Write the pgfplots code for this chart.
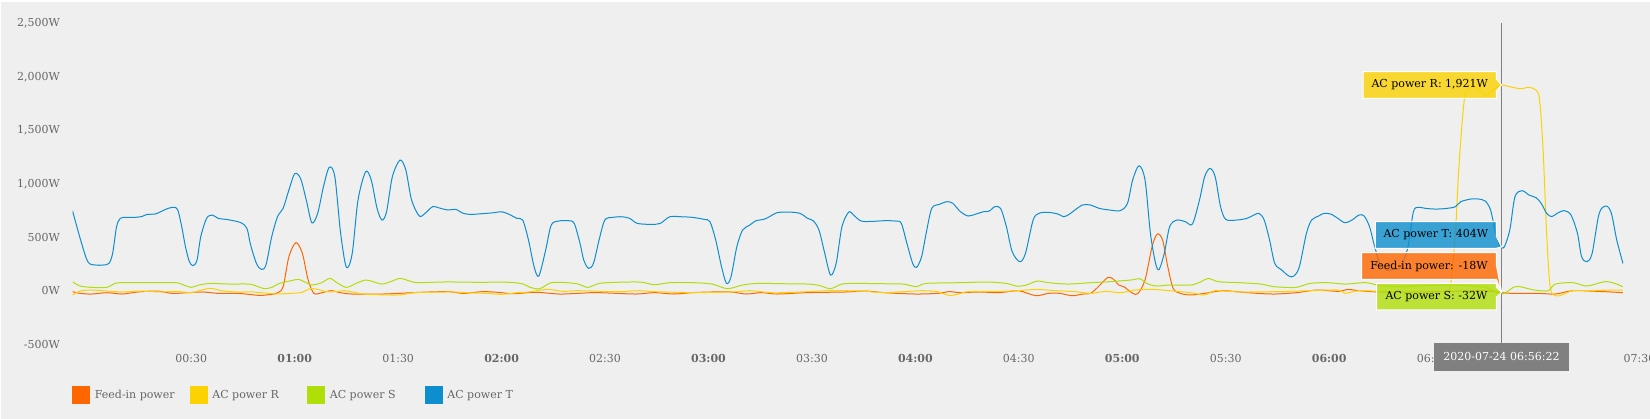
\documentclass[border=0pt]{standalone}
\usepackage{fontspec}
\setmainfont{DejaVu Serif}
\usepackage{pgfplots}
\pgfplotsset{compat=1.18}
\definecolor{feedc}{HTML}{FF6600}
\definecolor{rc}{HTML}{FCD202}
\definecolor{sc}{HTML}{B0DE09}
\definecolor{tc}{HTML}{0D8ECF}
\definecolor{bgc}{HTML}{EFEFEF}
\definecolor{labc}{HTML}{666666}
\definecolor{curc}{HTML}{808080}
\newcommand{\sz}{\fontsize{5.5bp}{6.6bp}\selectfont}
\begin{document}
\sz
\begin{tikzpicture}
\path[use as bounding box] (0,0) rectangle (825bp,209.5bp);
\fill[white] (0,0) rectangle (825bp,209.5bp);
\fill[bgc] (0.5bp,0) rectangle (825bp,208.6bp);
\begin{axis}[
  at={(36.25bp,37.4bp)}, anchor=south west,
  scale only axis, width=783.5bp, height=160.5bp,
  xmin=-0.074, xmax=7.5, ymin=-500, ymax=2500,
  axis line style={draw=none},
  tick style={draw=none},
  major tick length=0pt,
  xtick={0.5,1,1.5,2,2.5,3,3.5,4,4.5,5,5.5,6,6.5,7,7.5},
  xticklabels={00:30,\textbf{01:00},01:30,\textbf{02:00},02:30,\textbf{03:00},03:30,\textbf{04:00},04:30,\textbf{05:00},05:30,\textbf{06:00},06:30,\textbf{07:00},07:30},
  ytick={-500,0,500,1000,1500,2000,2500},
  yticklabels={-500W,0W,500W,{1,000W},{1,500W},{2,000W},{2,500W}},
  ticklabel style={font=\sz, text=labc},
  xticklabel style={anchor=center, yshift=-7bp, inner sep=0pt},
  yticklabel style={anchor=east, xshift=-6.05bp, inner sep=0pt},
  every axis plot/.append style={line width=0.5bp, smooth, tension=0.5, no markers},
  legend columns=4,
  legend cell align=left,
  legend style={at={(axis description cs:0,0)}, anchor=west, xshift=-0.25bp, yshift=-25.4bp,
    draw=none, fill=none, inner sep=0pt, font=\sz, text=labc,
    /tikz/every odd column/.style={column sep=2.4bp},
    nodes={inner sep=0pt}},
]
\addlegendimage{legend image code/.code={\fill[feedc] (0bp,-4.2bp) rectangle (8.35bp,4.2bp);}}
\addlegendentry{\makebox[47.5bp][l]{Feed-in power}}
\addlegendimage{legend image code/.code={\fill[rc] (0bp,-4.2bp) rectangle (8.35bp,4.2bp);}}
\addlegendentry{\makebox[47.5bp][l]{AC power R}}
\addlegendimage{legend image code/.code={\fill[sc] (0bp,-4.2bp) rectangle (8.35bp,4.2bp);}}
\addlegendentry{\makebox[47.5bp][l]{AC power S}}
\addlegendimage{legend image code/.code={\fill[tc] (0bp,-4.2bp) rectangle (8.35bp,4.2bp);}}
\addlegendentry{\makebox[47.5bp][l]{AC power T}}

% Feed-in power
\addplot[feedc, forget plot] coordinates {
(-0.074,-9) (-0.037,-25) (0.019,-31) (0.093,-19) (0.167,-31) (0.241,-12) (0.333,-3) (0.407,-25) (0.481,-19) (0.556,-12) (0.630,-25) (0.722,-25) (0.778,-34) (0.833,-44) (0.889,-34) (0.917,-19) (0.944,37) (0.972,318) (1.006,449) (1.037,349) (1.065,100) (1.093,-25) (1.130,-19) (1.176,0) (1.222,-19) (1.278,-31) (1.426,-31) (1.500,-25) (1.611,-15) (1.741,-9) (1.815,-25) (1.907,-9) (1.981,-15) (2.056,-28) (2.167,-15) (2.277,-31) (2.370,-25) (2.462,-18) (2.647,-31) (2.739,-18) (2.832,-31) (2.924,-18) (3.017,-12) (3.109,-12) (3.183,-31) (3.257,-18) (3.331,-31) (3.479,-18) (3.664,-12) (3.756,-3) (3.848,-18) (3.996,-31) (4.107,-25) (4.163,-9) (4.218,-18) (4.311,-12) (4.403,-18) (4.495,0) (4.542,-25) (4.588,-47) (4.643,-25) (4.699,-25) (4.758,-47) (4.810,-31) (4.847,-25) (4.884,37) (4.930,124) (4.958,106) (4.983,53) (5.008,37) (5.051,-25) (5.076,-25) (5.110,100) (5.144,411) (5.169,530) (5.195,473) (5.220,224) (5.246,22) (5.280,-25) (5.331,-40) (5.398,-25) (5.483,0) (5.568,-12) (5.653,-25) (5.737,-31) (5.839,-19) (5.941,6) (6.042,-6) (6.093,12) (6.144,0) (6.246,-12) (6.415,-12) (6.585,-6) (6.754,0) (6.834,-18) (6.890,-25) (7.008,-25) (7.093,-31) (7.178,0) (7.297,-6) (7.419,-18)
};
% AC power R
\addplot[rc, forget plot] coordinates {
(-0.074,-40) (-0.037,-3) (0.019,6) (0.093,-3) (0.167,-12) (0.241,-3) (0.352,-12) (0.426,-6) (0.500,-19) (0.537,0) (0.593,22) (0.648,0) (0.722,-12) (0.796,-12) (0.870,-25) (0.907,-31) (0.981,-25) (1.037,-15) (1.074,19) (1.111,12) (1.167,-12) (1.241,0) (1.296,-19) (1.352,-34) (1.500,-40) (1.574,-19) (1.648,-15) (1.759,-12) (1.833,-19) (1.926,-25) (2.000,-34) (2.074,-19) (2.130,-12) (2.222,12) (2.296,-6) (2.370,0) (2.555,-9) (2.665,0) (2.739,-9) (2.924,-18) (3.109,-12) (3.201,0) (3.294,-18) (3.368,-18) (3.479,-9) (3.571,0) (3.664,0) (3.756,-6) (3.848,-18) (3.940,-9) (4.033,0) (4.107,-9) (4.163,-44) (4.209,-31) (4.255,-9) (4.403,-6) (4.495,0) (4.588,12) (4.680,0) (4.773,-9) (4.847,-25) (4.921,-6) (4.992,-19) (5.059,6) (5.144,12) (5.229,0) (5.331,-19) (5.398,-40) (5.449,0) (5.568,-12) (5.737,-9) (5.907,0) (6.042,6) (6.076,-25) (6.144,0) (6.246,-6) (6.415,-12) (6.551,-9) (6.585,37) (6.610,536) (6.627,1159) (6.653,1782) (6.678,1900) (6.720,1891) (6.754,1819) (6.788,1875) (6.834,1921) (6.873,1906) (6.924,1888) (6.966,1900) (7.000,1875) (7.017,1782) (7.034,1315) (7.051,536) (7.068,37) (7.093,-47) (7.127,-37) (7.178,0) (7.263,0) (7.347,6) (7.419,6)
};
% AC power S
\addplot[sc, forget plot] coordinates {
(-0.074,84) (-0.037,44) (0.019,31) (0.093,31) (0.130,68) (0.167,75) (0.315,75) (0.426,75) (0.463,53) (0.500,31) (0.537,53) (0.593,68) (0.685,62) (0.778,62) (0.815,44) (0.852,19) (0.889,31) (0.926,68) (0.981,93) (1.019,106) (1.046,84) (1.083,53) (1.130,75) (1.170,115) (1.204,75) (1.250,31) (1.296,68) (1.343,100) (1.380,84) (1.422,62) (1.463,84) (1.509,115) (1.556,90) (1.593,75) (1.704,81) (1.796,81) (1.907,78) (2.000,81) (2.093,68) (2.139,31) (2.185,19) (2.240,75) (2.314,75) (2.370,62) (2.416,31) (2.462,62) (2.508,75) (2.665,81) (2.739,56) (2.813,75) (2.924,75) (3.017,62) (3.091,19) (3.165,53) (3.238,68) (3.368,65) (3.479,62) (3.534,50) (3.590,19) (3.645,62) (3.719,68) (3.848,65) (3.941,62) (4.006,37) (4.052,68) (4.218,75) (4.348,81) (4.440,68) (4.486,44) (4.532,50) (4.588,90) (4.643,75) (4.736,62) (4.847,75) (4.939,84) (5.042,100) (5.085,112) (5.119,68) (5.161,44) (5.229,53) (5.331,53) (5.381,84) (5.415,115) (5.466,84) (5.568,75) (5.669,62) (5.737,37) (5.839,31) (5.907,68) (5.992,75) (6.076,62) (6.178,75) (6.246,47) (6.331,37) (6.449,45) (6.585,53) (6.754,31) (6.834,-32) (6.890,31) (6.924,37) (6.992,6) (7.059,0) (7.093,62) (7.178,75) (7.246,44) (7.331,84) (7.381,68) (7.419,37)
};
% AC power T
\addplot[tc, forget plot] coordinates {
(-0.074,748) (-0.037,489) (0.0,271) (0.037,240) (0.074,240) (0.102,255) (0.120,349) (0.139,598) (0.157,676) (0.185,685) (0.222,685) (0.259,692) (0.287,713) (0.324,716) (0.352,738) (0.389,770) (0.417,779) (0.435,754) (0.454,598) (0.472,411) (0.491,271) (0.509,234) (0.528,287) (0.546,505) (0.574,676) (0.602,707) (0.630,676) (0.667,667) (0.704,654) (0.741,635) (0.769,583) (0.787,427) (0.815,255) (0.839,199) (0.861,240) (0.889,505) (0.917,692) (0.944,770) (0.972,941) (1.000,1093) (1.028,1050) (1.056,847) (1.083,635) (1.111,723) (1.139,972) (1.167,1153) (1.194,1065) (1.222,536) (1.250,218) (1.278,349) (1.306,847) (1.343,1112) (1.370,1034) (1.398,770) (1.422,660) (1.444,738) (1.472,1065) (1.509,1221) (1.537,1128) (1.565,847) (1.602,698) (1.630,723) (1.667,785) (1.704,770) (1.741,754) (1.778,760) (1.815,723) (1.852,713) (1.907,720) (1.963,729) (2.000,738) (2.037,713) (2.074,676) (2.102,660) (2.130,473) (2.157,224) (2.180,137) (2.213,380) (2.240,614) (2.277,651) (2.323,654) (2.351,629) (2.379,442) (2.397,287) (2.420,209) (2.444,255) (2.471,473) (2.499,660) (2.536,685) (2.582,691) (2.619,676) (2.656,629) (2.721,620) (2.767,629) (2.813,691) (2.869,691) (2.924,685) (2.980,666) (3.007,645) (3.035,473) (3.063,224) (3.087,68) (3.109,131) (3.137,411) (3.165,567) (3.200,614) (3.229,654) (3.266,666) (3.294,691) (3.331,729) (3.386,735) (3.442,723) (3.479,676) (3.506,654) (3.534,567) (3.562,349) (3.590,146) (3.617,255) (3.645,598) (3.678,735) (3.701,707) (3.738,651) (3.793,648) (3.848,654) (3.904,651) (3.932,629) (3.959,442) (3.987,255) (4.006,218) (4.030,318) (4.052,536) (4.079,769) (4.116,807) (4.153,832) (4.181,816) (4.218,738) (4.255,698) (4.292,716) (4.329,738) (4.357,744) (4.384,785) (4.412,769) (4.440,598) (4.468,364) (4.505,271) (4.532,349) (4.569,660) (4.597,723) (4.643,732) (4.690,716) (4.717,691) (4.745,716) (4.771,754) (4.808,801) (4.845,801) (4.890,769) (4.940,754) (4.990,748) (5.025,816) (5.050,1034) (5.081,1168) (5.110,1034) (5.136,536) (5.161,255) (5.178,199) (5.203,349) (5.229,598) (5.263,660) (5.305,645) (5.339,623) (5.373,847) (5.398,1065) (5.424,1143) (5.449,1065) (5.475,785) (5.500,667) (5.551,660) (5.602,676) (5.636,707) (5.661,723) (5.686,660) (5.712,473) (5.737,255) (5.771,193) (5.805,137) (5.830,137) (5.856,224) (5.890,536) (5.915,660) (5.949,698) (5.975,723) (6.008,716) (6.042,676) (6.076,635) (6.110,660) (6.144,707) (6.169,698) (6.195,598) (6.220,411) (6.246,255) (6.280,193) (6.314,199) (6.347,224) (6.381,411) (6.407,738) (6.432,779) (6.466,769) (6.517,763) (6.568,769) (6.610,785) (6.636,832) (6.686,857) (6.720,857) (6.754,838) (6.780,754) (6.805,536) (6.822,427) (6.834,404) (6.847,411) (6.873,567) (6.898,878) (6.932,935) (6.966,894) (7.000,869) (7.025,816) (7.051,723) (7.076,692) (7.102,723) (7.136,748) (7.169,707) (7.200,536) (7.220,318) (7.246,271) (7.271,349) (7.305,723) (7.339,791) (7.364,723) (7.390,473) (7.420,255)
};
\end{axis}
\begin{scope}[x=0.5bp, y=-0.5bp, shift={(0bp,209.5bp)}]
\draw[curc, line width=0.5bp] (1501.6,23.3) -- (1501.6,342.7);
\filldraw[fill=rc, fill opacity=0.8, draw=white, line width=0.5bp]
  (1363.1,71.7) -- (1496.4,71.7) -- (1496.4,79) -- (1501.6,85) -- (1496.4,91) -- (1496.4,98.3) -- (1363.1,98.3) -- cycle;
\node[inner sep=0pt, text=black, font=\sz] at (1429.8,85) {AC power R: 1,921W};
\filldraw[fill=tc, fill opacity=0.8, draw=white, line width=0.5bp]
  (1375.3,221.7) -- (1496.4,221.7) -- (1496.4,236.5) -- (1501.6,247) -- (1496.4,248.3) -- (1375.3,248.3) -- cycle;
\node[inner sep=0pt, text=black, font=\sz] at (1435.9,235) {AC power T: 404W};
\filldraw[fill=feedc, fill opacity=0.8, draw=white, line width=0.5bp]
  (1361.7,252.7) -- (1496.4,252.7) -- (1496.4,265) -- (1501.6,292) -- (1496.4,279.3) -- (1361.7,279.3) -- cycle;
\node[inner sep=0pt, text=black, font=\sz] at (1429,266) {Feed-in power: -18W};
\filldraw[fill=sc, fill opacity=0.8, draw=white, line width=0.5bp]
  (1376.7,283.3) -- (1496.4,283.3) -- (1496.4,287.3) -- (1501.6,292.3) -- (1496.4,297.3) -- (1496.4,310) -- (1376.7,310) -- cycle;
\node[inner sep=0pt, text=black, font=\sz] at (1436.5,296.7) {AC power S: -32W};
\fill[curc] (1434,342.7) rectangle (1569,371);
\node[inner sep=0pt, text=white, font=\sz] at (1501.5,356.8) {2020-07-24 06:56:22};
\end{scope}
\end{tikzpicture}
\end{document}
